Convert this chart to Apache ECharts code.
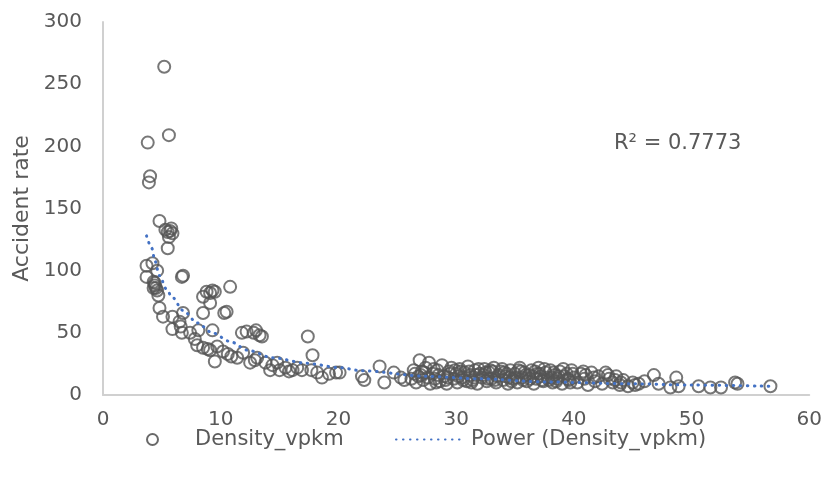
<!DOCTYPE html>
<html>
<head>
<meta charset="utf-8">
<script src="https://cdn.jsdelivr.net/npm/echarts@6/dist/echarts.min.js"></script>
<style>
    html, body { margin: 0; padding: 0; background: #fff; }
    #main { width: 825px; height: 483px; }
</style>
</head>
<body>
<div id="main"></div>
<script>
    // scatter points [density, accident rate]
    const densityPoints = [
        // x < 7
        [3.8, 203], [5.2, 264], [5.6, 209], [4.0, 176], [3.9, 171], [4.8, 140],
        [5.3, 133], [5.5, 131], [5.7, 132], [5.9, 130], [5.6, 127], [5.8, 134], [5.5, 118],
        [3.7, 104], [4.2, 106], [3.7, 95], [4.3, 91], [4.4, 88], [4.5, 86], [4.6, 84],
        [4.4, 90], [4.7, 80], [6.7, 95], [6.8, 96], [4.8, 70], [5.1, 63], [5.9, 63],
        [6.8, 66], [6.5, 59], [5.9, 53], [6.7, 50], [7.4, 50], [6.6, 55], [4.6, 100], [4.3, 86],
        // 7 - 14
        [8.8, 83], [9.3, 84], [9.5, 83], [10.8, 87], [8.5, 79], [9.1, 82], [8.5, 66],
        [9.1, 74], [10.5, 67], [10.3, 66], [8.1, 52], [9.3, 52], [8.5, 38], [9.1, 36],
        [9.7, 39], [10.2, 35], [9.5, 27], [11.4, 30], [11.8, 50], [12.2, 51], [13.0, 52],
        [13.5, 47], [11.9, 34], [12.5, 26], [13.1, 30], [14.4, 24], [8.0, 40], [10.6, 33],
        [7.8, 45], [12.8, 50], [13.3, 48], [12.9, 28], [13.8, 26], [8.9, 37], [10.9, 31],
        // 14 - 26
        [15.0, 20], [16.1, 20], [16.9, 20], [17.4, 47], [17.8, 32], [17.7, 20], [18.6, 14],
        [19.8, 18], [22.0, 15], [22.2, 12], [23.5, 23], [23.9, 10], [24.7, 18], [25.3, 14],
        [25.6, 12], [14.8, 26], [15.5, 22], [16.5, 22], [18.2, 18], [19.2, 17], [20.1, 18],
        [14.2, 20], [15.8, 19],
        // dense band 26 - 46
        [26.2, 13], [26.4, 20], [26.6, 10], [26.9, 28], [27.0, 16], [27.2, 12], [27.4, 22],
        [27.7, 26], [27.8, 9], [28.0, 17], [28.2, 13], [28.4, 20], [28.6, 11], [28.8, 24],
        [29.0, 15], [29.2, 9], [29.4, 19], [29.6, 22], [29.8, 13], [30.0, 17], [30.1, 10],
        [30.3, 21], [30.5, 14], [30.7, 18], [30.9, 11], [31.0, 23], [31.2, 16], [31.4, 12],
        [31.6, 20], [31.8, 9], [32.0, 17], [32.2, 14], [32.4, 21], [32.6, 11], [32.8, 18],
        [33.0, 13], [33.2, 22], [33.4, 10], [33.6, 16], [33.8, 19], [34.0, 12], [34.2, 15],
        [34.4, 9], [34.6, 20], [34.8, 13], [35.0, 17], [35.2, 10], [35.4, 22], [35.6, 14],
        [35.8, 18], [36.0, 11], [36.2, 16], [36.4, 20], [36.6, 9], [36.8, 13], [37.0, 22],
        [37.2, 15], [37.4, 11], [37.6, 18], [37.8, 14], [38.0, 20], [38.2, 10], [38.4, 16],
        [38.6, 13], [38.8, 19], [39.0, 9], [39.2, 15], [39.4, 17], [39.6, 12], [39.8, 20],
        [40.0, 14], [40.3, 10], [40.6, 17], [40.9, 13], [41.2, 8], [41.5, 18], [41.8, 11],
        [42.1, 15], [42.4, 9], [42.7, 18], [43.0, 13], [43.3, 10], [43.6, 15], [43.9, 8],
        [44.2, 12], [44.6, 7], [45.0, 10], [45.5, 9], [46.0, 11],
        [26.5, 17], [27.1, 19], [27.6, 14], [28.1, 21], [28.5, 16], [29.1, 12], [29.5, 17],
        [29.9, 20], [30.2, 15], [30.6, 12], [31.1, 19], [31.5, 14], [31.9, 21], [32.3, 16],
        [32.7, 13], [33.1, 19], [33.5, 15], [33.9, 21], [34.3, 17], [34.7, 11], [35.1, 14],
        [35.5, 19], [35.9, 16], [36.3, 13], [36.7, 19], [37.1, 17], [37.5, 21], [37.9, 12],
        [38.3, 18], [38.7, 15], [39.1, 21], [39.5, 13], [39.9, 17], [30.4, 19], [31.3, 10],
        [32.5, 18], [33.3, 12], [34.5, 14], [35.3, 20], [36.5, 15], [37.3, 12], [38.5, 11],
        [29.3, 14], [28.3, 10], [27.3, 18], [26.8, 15], [31.7, 16], [32.9, 20], [34.1, 18],
        [35.7, 12], [36.9, 17], [38.1, 14], [39.7, 10], [40.8, 19], [41.7, 14], [42.9, 16],
        [44.0, 10], [45.2, 8], [43.5, 12], [41.0, 16],
        // tail
        [46.8, 16], [47.2, 9], [48.2, 6], [48.7, 14], [48.9, 7], [50.6, 7], [51.6, 6],
        [52.5, 6], [53.7, 10], [53.9, 9], [56.7, 7]
    ];

    // power trendline, points
    const trendX = [3.7, 4.15, 4.4, 4.8, 5.4, 5.85, 6.8, 8.0, 9.3, 10.8, 12.3, 14.4, 17.3, 20.1, 22, 27.5, 32, 37.6, 45, 50, 56.7];
    const trendY = [128, 118, 108, 96, 85, 79, 68, 58, 50, 43, 36, 30, 25.5, 22, 19.5, 15, 13, 10.5, 9, 8, 7];

    const yTicks = [0, 50, 100, 150, 200, 250, 300];
    const xTicks = [0, 10, 20, 30, 40, 50, 60];
    const rSquared = 'R² = 0.7773';

    const font = 'DejaVu Sans';
    const textColor = '#595959';

    const myChart = echarts.init(document.getElementById('main'));
    const option = {
        animation: false,
        textStyle: {fontFamily: font, color: textColor},
        grid: {left: 103, right: 14, top: 22, bottom: 88},
        xAxis: {
            type: 'value',
            min: xTicks[0],
            max: xTicks[xTicks.length - 1],
            interval: 10,
            axisLine: {lineStyle: {color: '#d0d0d0', width: 2}},
            axisTick: {show: false},
            splitLine: {show: false},
            axisLabel: {fontSize: 20, color: textColor, margin: 15, fontFamily: font}
        },
        yAxis: {
            type: 'value',
            min: yTicks[0],
            max: yTicks[yTicks.length - 1],
            interval: 50,
            name: 'Accident rate',
            nameLocation: 'middle',
            nameGap: 70,
            nameTextStyle: {fontSize: 22, color: textColor, fontFamily: font},
            axisLine: {show: true, lineStyle: {color: '#d0d0d0', width: 2}},
            axisTick: {show: false},
            splitLine: {show: false},
            axisLabel: {fontSize: 20, color: textColor, margin: 21, fontFamily: font}
        },
        legend: [
            {
                data: ['Density_vpkm'],
                left: 141,
                top: 424,
                itemWidth: 11,
                itemHeight: 11,
                itemStyle: {borderColor: '#444444', borderWidth: 2},
                textStyle: {fontSize: 21, color: textColor, fontFamily: font, padding: [0, 0, 0, 32]}
            },
            {
                data: ['Power (Density_vpkm)'],
                left: 390,
                top: 424,
                itemWidth: 66,
                itemHeight: 11,
                itemStyle: {opacity: 0},
                textStyle: {fontSize: 21, color: textColor, fontFamily: font, padding: [0, 0, 0, 4]}
            }
        ],
        graphic: [{
            type: 'text',
            left: 614,
            top: 133,
            style: {text: rSquared, font: '21px "DejaVu Sans"', fill: textColor}
        }],
        series: [
            {
                name: 'Density_vpkm',
                type: 'scatter',
                symbol: 'circle',
                symbolSize: 12,
                itemStyle: {color: 'rgba(255,255,255,0)', borderColor: '#555555', borderWidth: 2},
                data: densityPoints
            },
            {
                name: 'Power (Density_vpkm)',
                type: 'line',
                smooth: 0.3,
                smoothMonotone: 'x',
                symbol: 'none',
                lineStyle: {color: '#4472c4', width: 3, type: [0.5, 6.5], cap: 'round'},
                itemStyle: {color: '#4472c4'},
                z: 3,
                data: trendX.map((x, i) => [x, trendY[i]])
            }
        ]
    };
    myChart.setOption(option);
</script>
</body>
</html>
